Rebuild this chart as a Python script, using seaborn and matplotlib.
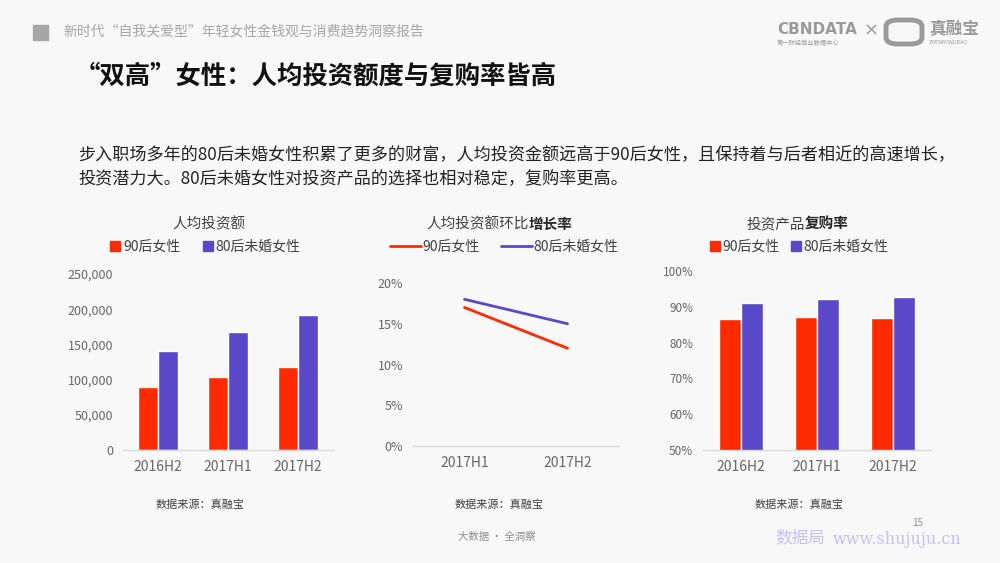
import matplotlib
matplotlib.use("Agg")
import matplotlib.pyplot as plt
import seaborn as sns
import pandas as pd
from matplotlib.lines import Line2D
from matplotlib.patches import Rectangle, FancyBboxPatch
from matplotlib.ticker import FuncFormatter

# ---------------- data ----------------
periods3 = ["2016H2", "2017H1", "2017H2"]
periods2 = ["2017H1", "2017H2"]
groups = ["90后女性", "80后未婚女性"]

invest_90 = [90000, 104000, 118000]
invest_80 = [141000, 167000, 192000]

growth_90 = [0.17, 0.12]
growth_80 = [0.18, 0.15]

repurchase_90 = [0.867, 0.872, 0.870]
repurchase_80 = [0.911, 0.923, 0.926]

header_text = "新时代“自我关爱型”年轻女性金钱观与消费趋势洞察报告"
main_title = "“双高”女性：人均投资额度与复购率皆高"
para_lines = [
    "步入职场多年的80后未婚女性积累了更多的财富，人均投资金额远高于90后女性，且保持着与后者相近的高速增长，",
    "投资潜力大。80后未婚女性对投资产品的选择也相对稳定，复购率更高。",
]
source_text = "数据来源：真融宝"

RED = "#ff2a00"
PURPLE = "#5b48c8"
BG = "#f8f8f8"
TICK = "#666666"

sns.set_theme(style="white")
plt.rcParams["font.family"] = ["Noto Sans CJK SC", "DejaVu Sans"]
plt.rcParams["axes.unicode_minus"] = False

W, H = 1000, 563
fig = plt.figure(figsize=(W / 100, H / 100), dpi=100, facecolor=BG)


def fx(px):
    return px / W


def fy(py):
    return 1 - py / H


def add_ax(x0, x1, ytop, ybot):
    ax = fig.add_axes([fx(x0), fy(ybot), fx(x1 - x0), (ybot - ytop) / H])
    ax.set_facecolor("none")
    for s in ["top", "right", "left"]:
        ax.spines[s].set_visible(False)
    ax.spines["bottom"].set_color("#d9d9d9")
    ax.spines["bottom"].set_linewidth(1.0)
    ax.tick_params(axis="y", length=0, pad=7, labelsize=9, labelcolor=TICK)
    ax.tick_params(axis="x", length=0, pad=7, labelsize=10, labelcolor=TICK)
    ax.grid(False)
    ax.set_xlabel("")
    ax.set_ylabel("")
    return ax


# ---------------- header ----------------
fig.patches.append(Rectangle((fx(33), fy(40)), fx(15), 15 / H, transform=fig.transFigure,
                             color="#a6a6a6", zorder=1))
fig.text(fx(63), fy(32), header_text, fontsize=10, color="#a6a6a6", va="center", ha="left")
fig.text(fx(75), fy(76), main_title, fontsize=18.3, fontweight="bold", color="#111111",
         va="center", ha="left")
fig.text(fx(78), fy(155), para_lines[0], fontsize=12.3, color="#222222", va="center", ha="left")
fig.text(fx(78), fy(178), para_lines[1], fontsize=12.3, color="#222222", va="center", ha="left")

# logo
fig.text(fx(777), fy(29), "CBNDATA", fontsize=11, fontweight="bold", color="#9a9a9a",
         va="center", ha="left", family="DejaVu Sans")
fig.text(fx(777), fy(43), "第一财经商业数据中心", fontsize=4.5, color="#9a9a9a", va="center", ha="left")
fig.text(fx(871), fy(31), "×", fontsize=13, color="#9a9a9a", va="center", ha="center",
         family="DejaVu Sans")
fig.patches.append(FancyBboxPatch((fx(886), fy(44)), fx(36), 24 / H, transform=fig.transFigure,
                                  boxstyle="round,pad=0,rounding_size=0.012", fill=False,
                                  ec="#9a9a9a", lw=3.5))
fig.text(fx(929), fy(29), "真融宝", fontsize=12, fontweight="bold", color="#9a9a9a",
         va="center", ha="left")
fig.text(fx(929), fy(43), "ZHENRONGBAO", fontsize=3.5, color="#9a9a9a", va="center", ha="left",
         family="DejaVu Sans")

# ---------------- chart 1 ----------------
df1 = pd.DataFrame({
    "period": periods3 * 2,
    "value": invest_90 + invest_80,
    "group": [groups[0]] * 3 + [groups[1]] * 3,
})
ax1 = add_ax(123, 333, 274, 450)
sns.barplot(data=df1, x="period", y="value", hue="group", palette=[RED, PURPLE],
            saturation=1, width=0.57, gap=0, legend=False, ax=ax1)
ax1.set_ylim(0, 250000)
ax1.set_yticks([0, 50000, 100000, 150000, 200000, 250000])
ax1.yaxis.set_major_formatter(FuncFormatter(lambda v, p: f"{int(v):,}"))
ax1.set_xlim(-0.5, 2.5)
ax1.set_xlabel("")
ax1.set_ylabel("")

# ---------------- chart 2 ----------------
df2 = pd.DataFrame({
    "period": periods2 * 2,
    "value": growth_90 + growth_80,
    "group": [groups[0]] * 2 + [groups[1]] * 2,
})
ax2 = add_ax(413, 619, 283, 446)
sns.lineplot(data=df2, x="period", y="value", hue="group", palette=[RED, PURPLE],
             linewidth=2.0, legend=False, ax=ax2)
ax2.set_ylim(0, 0.2)
ax2.set_yticks([0, 0.05, 0.10, 0.15, 0.20])
ax2.yaxis.set_major_formatter(FuncFormatter(lambda v, p: f"{v * 100:.0f}%"))
ax2.set_xlim(-0.5, 1.5)
ax2.set_xlabel("")
ax2.set_ylabel("")

# ---------------- chart 3 ----------------
df3 = pd.DataFrame({
    "period": periods3 * 2,
    "value": repurchase_90 + repurchase_80,
    "group": [groups[0]] * 3 + [groups[1]] * 3,
})
ax3 = add_ax(703, 931, 271, 450)
sns.barplot(data=df3, x="period", y="value", hue="group", palette=[RED, PURPLE],
            saturation=1, width=0.57, gap=0, legend=False, ax=ax3)
ax3.set_ylim(0.5, 1.0)
ax3.set_yticks([0.5, 0.6, 0.7, 0.8, 0.9, 1.0])
ax3.yaxis.set_major_formatter(FuncFormatter(lambda v, p: f"{v * 100:.0f}%"))
ax3.tick_params(axis="y", labelsize=8.5)
ax3.set_xlim(-0.5, 2.5)
ax3.set_xlabel("")
ax3.set_ylabel("")

# ---------------- chart titles ----------------
TCOL = "#404040"
fig.text(fx(209), fy(224), "人均投资额", fontsize=10.5, color=TCOL, ha="center", va="center")
fig.text(fx(529), fy(224), "人均投资额环比", fontsize=10.5, color=TCOL, ha="right", va="center")
fig.text(fx(529), fy(224), "增长率", fontsize=10.5, color="#262626", fontweight="bold",
         ha="left", va="center")
fig.text(fx(805), fy(224), "投资产品", fontsize=10.5, color=TCOL, ha="right", va="center")
fig.text(fx(805), fy(224), "复购率", fontsize=10.5, color="#262626", fontweight="bold",
         ha="left", va="center")

# ---------------- legends ----------------
sq_handles = [Line2D([], [], marker="s", linestyle="none", markersize=7, color=c) for c in (RED, PURPLE)]
ln_handles = [Line2D([], [], color=c, linewidth=2.0) for c in (RED, PURPLE)]

leg_kw = dict(loc="center", ncol=2, frameon=False, fontsize=10, labelcolor="#404040",
              bbox_transform=fig.transFigure)
fig.legend(sq_handles, groups, bbox_to_anchor=(fx(205), fy(247)), handlelength=0.8,
           handletextpad=0.15, columnspacing=1.6, **leg_kw)
fig.legend(ln_handles, groups, bbox_to_anchor=(fx(504), fy(247)), handlelength=2.2,
           handletextpad=0.1, columnspacing=1.6, **leg_kw)
fig.legend(sq_handles, groups, bbox_to_anchor=(fx(799), fy(247)), handlelength=0.8,
           handletextpad=0.15, columnspacing=0.8, **leg_kw)

# ---------------- sources & footer ----------------
for cx in (200, 499, 799):
    fig.text(fx(cx), fy(505), source_text, fontsize=8, color="#404040", ha="center", va="center")

fig.text(fx(497), fy(537), "大数据 · 全洞察", fontsize=7.5, color="#8c8c8c", ha="center", va="center")
fig.text(fx(775), fy(538), "数据局", fontsize=12, color="#c5c0f2", ha="left", va="center")
fig.text(fx(833), fy(539), "www.shujuju.cn", fontsize=11.5, color="#c5c0f2", ha="left",
         va="center", family="DejaVu Serif")
fig.text(fx(918), fy(523), "15", fontsize=7, color="#8c8c8c", ha="center", va="center")

fig.savefig("out.png", dpi=100, facecolor=BG)
